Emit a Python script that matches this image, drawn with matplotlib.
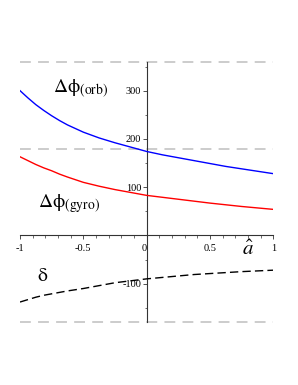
import matplotlib
matplotlib.use("Agg")
import matplotlib.pyplot as plt

a_vals = [-1.0, -0.9375, -0.875, -0.8125, -0.75, -0.6875, -0.625, -0.5, -0.375, -0.25,
          -0.125, 0.0, 0.125, 0.25, 0.375, 0.5, 0.625, 0.75, 0.875, 1.0]
orb_vals = [300, 285, 271, 259, 248, 238, 229, 214, 202, 192,
            183, 174, 167, 161, 155, 149, 143, 138, 133, 128]
gyro_vals = [163, 155, 147, 140, 134, 127, 121, 110, 102, 95,
             89, 83, 79, 75, 71, 67, 63.5, 60, 57, 54]
delta_vals = [-138, -133, -128, -124, -121, -118, -115, -110, -104, -98,
              -94, -90, -87, -84, -81, -79, -77, -75, -73.5, -72]
ref_levels = [360, 180, -180]
xticks = [-1, -0.5, 0, 0.5, 1]
xticklabels = ["-1", "-0.5", "0", "0.5", "1"]
yticks = [-100, 100, 200, 300]
yticklabels = ["-100", "100", "200", "300"]

plt.rcParams['mathtext.fontset'] = 'stix'
plt.rcParams['font.family'] = ['Liberation Serif', 'DejaVu Serif']

fig = plt.figure(figsize=(2.98, 3.85), dpi=100)
ax = fig.add_axes([20/298, (385-322.3)/385, 253.3/298, (322.3-61.7)/385])
ax.set_xlim(-1, 1)
ax.set_ylim(-180, 360)

for lv in ref_levels:
    ax.plot([-1, 1], [lv, lv], color='#c8c8c8', lw=1.3, dashes=(6, 4), clip_on=False, zorder=1)

ax.plot(a_vals, orb_vals, color='#0000ff', lw=1.0, zorder=3)
ax.plot(a_vals, gyro_vals, color='#ff0000', lw=1.0, zorder=3)
ax.plot(a_vals, delta_vals, color='black', lw=1.0, dashes=(6, 3), zorder=3)

for s in ['top', 'right']:
    ax.spines[s].set_visible(False)
ax.spines['left'].set_position(('data', 0))
ax.spines['bottom'].set_position(('data', 0))
for s in ['left', 'bottom']:
    ax.spines[s].set_linewidth(0.8)
    ax.spines[s].set_color('#333333')

ax.set_xticks(xticks)
ax.set_xticklabels(xticklabels)
ax.set_xticks([i/10 for i in range(-10, 11)], minor=True)
ax.set_yticks(yticks)
ax.set_yticklabels(yticklabels)
ax.set_yticks([-150, -50, 50, 150, 250, 350], minor=True)
ax.tick_params(axis='both', which='major', labelsize=7.5, length=3, width=0.6, color='#333333', pad=1)
ax.tick_params(axis='both', which='minor', length=1.8, width=0.5, color='#333333')
ax.tick_params(axis='x', which='major', pad=3.5)
for lbl in ax.get_xticklabels():
    if lbl.get_text() == "0":
        lbl.set_horizontalalignment('right')

ax.text(-0.74, 304, r'$\mathrm{\Delta\phi}_{\mathrm{(orb)}}$', fontsize=14, ha='left', va='center')
ax.text(-0.86, 66, r'$\mathrm{\Delta\phi}_{\mathrm{(gyro)}}$', fontsize=14, ha='left', va='center')
ax.text(-0.82, -86, r'$\mathrm{\delta}$', fontsize=14, ha='center', va='center')
ax.text(0.80, -32, r'$\hat{a}$', fontsize=15, ha='center', va='center')

fig.savefig('out.png', dpi=100)
